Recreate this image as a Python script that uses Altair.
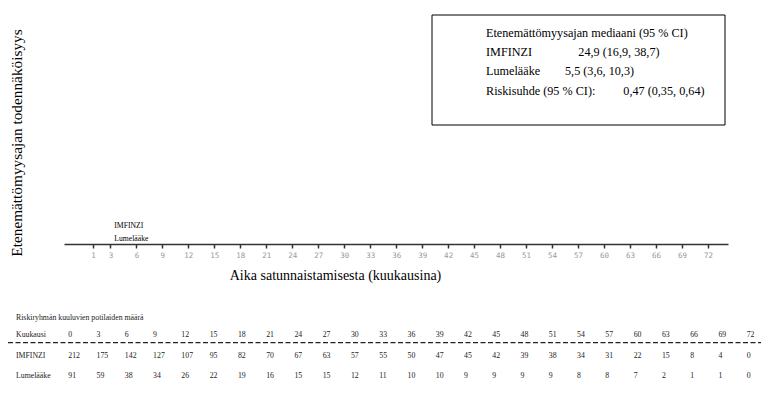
import altair as alt
import pandas as pd

# ---- data ----
tick_values = [1, 3, 6, 9, 12, 15, 18, 21, 24, 27, 30, 33, 36, 39, 42, 45, 48, 51, 54, 57, 60, 63, 66, 69, 72]
months = [0, 3, 6, 9, 12, 15, 18, 21, 24, 27, 30, 33, 36, 39, 42, 45, 48, 51, 54, 57, 60, 63, 66, 69, 72]
imfinzi = [212, 175, 142, 127, 107, 95, 82, 70, 67, 63, 57, 55, 50, 47, 45, 42, 39, 38, 34, 31, 22, 15, 8, 4, 0]
placebo = [91, 59, 38, 34, 26, 22, 19, 16, 15, 15, 12, 11, 10, 10, 9, 9, 9, 9, 8, 8, 7, 2, 1, 1, 0]
row_labels = ["Kuukausi", "IMFINZI", "Lumelääke"]
table_title = "Riskiryhmän kuuluvien potilaiden määrä"
x_title = "Aika satunnaistamisesta (kuukausina)"
y_title = "Etenemättömyysajan todennäköisyys"
legend_head = "Etenemättömyysajan mediaani (95 % CI)"
legend_names = ["IMFINZI", "Lumelääke", "Riskisuhde (95 % CI):"]
legend_values = ["24,9 (16,9, 38,7)", "5,5 (3,6, 10,3)", "0,47 (0,35, 0,64)"]

SERIF = "'Liberation Serif', 'Times New Roman', serif"

ticks_df = pd.DataFrame({"kk": tick_values})
rows = []
for i, m in enumerate(months):
    rows.append({"m": m, "rivi": 0, "t": str(m)})
    rows.append({"m": m, "rivi": 1, "t": str(imfinzi[i])})
    rows.append({"m": m, "rivi": 2, "t": str(placebo[i])})
table_df = pd.DataFrame(rows)
labels_df = pd.DataFrame({"rivi": [0, 1, 2], "t": row_labels})

# ---- main axis layer ----
main = alt.Chart(ticks_df).mark_point(opacity=0).encode(
    x=alt.X("kk:Q",
            scale=alt.Scale(domain=[-2.36, 74.32], nice=False, zero=False),
            axis=alt.Axis(values=tick_values, title=x_title, grid=False,
                          domainColor="#333", domainWidth=1.5,
                          tickColor="#333", tickWidth=1.5, tickSize=4,
                          labelFont="DejaVu Sans Mono", labelFontSize=7.5,
                          labelColor="#999", labelPadding=3,
                          labelFlush=False, labelOverlap=False,
                          titleFont=SERIF, titleFontSize=14,
                          titleFontWeight="normal", titleColor="#000",
                          titleX=271, titleY=31, titleBaseline="middle",
                          titleAlign="center")),
    y=alt.value(0),
)

def note(text, x, y, size, align="left", angle=0, color="#000"):
    kw = dict(font=SERIF, fontSize=size, align=align, baseline="middle", color=color)
    if angle:
        kw["angle"] = angle
    return alt.Chart(pd.DataFrame({"t": [text]})).mark_text(**kw).encode(
        text="t:N", x=alt.value(x), y=alt.value(y))

y_title_layer = note(y_title, -47, 129, 15.3, align="center", angle=270)

# legend box
box = alt.Chart(pd.DataFrame({"a": [0]})).mark_rect(
    fill="white", stroke="#000", strokeWidth=1).encode(
    x=alt.value(368), x2=alt.value(661), y=alt.value(1), y2=alt.value(111))
legend_layers = [note(legend_head, 422, 19, 12.2)]
legend_ys = [37.5, 56.5, 76.5]
value_xs = [514.3, 501, 559.3]
for n, v, yy, vx in zip(legend_names, legend_values, legend_ys, value_xs):
    legend_layers.append(note(n, 422, yy, 12.2))
    legend_layers.append(note(v, vx, yy, 12.2))

# in-plot small labels
small1 = note("IMFINZI", 50.3, 211.5, 7.7)
small2 = note("Lumelääke", 50.3, 224.5, 7.7)

# risk table
table_x = alt.Scale(domain=[0, 72], range=[4.3, 682.7])
table_y = alt.Scale(domain=[0, 2], range=[321, 362])
table = alt.Chart(table_df).mark_text(
    font=SERIF, fontSize=7.8, align="left", baseline="middle", color="#222").encode(
    x=alt.X("m:Q", scale=table_x, axis=None),
    y=alt.Y("rivi:Q", scale=table_y, axis=None),
    text="t:N",
)
labels = alt.Chart(labels_df).mark_text(
    font=SERIF, fontSize=7.8, align="left", baseline="middle", color="#222").encode(
    x=alt.value(-48),
    y=alt.Y("rivi:Q", scale=table_y, axis=None),
    text="t:N",
)
ttitle = note(table_title, -48, 303.5, 7.8, color="#222")
dash = alt.Chart(pd.DataFrame({"a": [0]})).mark_rule(
    strokeDash=[5, 2.5], strokeWidth=1.3, color="#222").encode(
    x=alt.value(-56), x2=alt.value(701), y=alt.value(328.7))

chart = alt.layer(
    main, y_title_layer, box, *legend_layers, small1, small2,
    table, labels, ttitle, dash
).resolve_scale(x="independent", y="independent").properties(
    width=664, height=230,
    autosize=alt.AutoSizeParams(type="none"),
    padding={"left": 56, "top": 6, "right": 33, "bottom": 148},
    background="white",
).configure_view(stroke=None)

chart.save("out.html", embed_options={"renderer": "svg", "actions": False})
